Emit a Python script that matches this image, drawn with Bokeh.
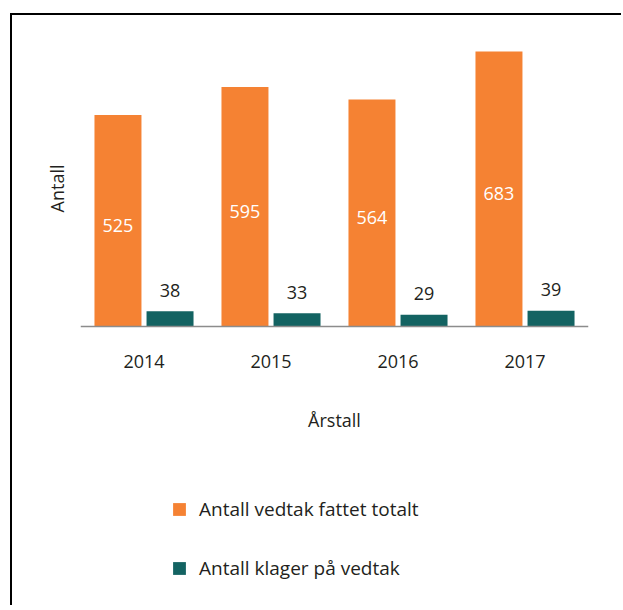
from bokeh.plotting import figure
from bokeh.models import (ColumnDataSource, FactorRange, Range1d, LabelSet, Legend,
                          LegendItem, CategoricalAxis, Title)
from bokeh.transform import dodge
from bokeh.core.properties import value
from bokeh.embed import file_html
from bokeh.resources import INLINE

years = ["2014", "2015", "2016", "2017"]
vedtak = [525, 595, 564, 683]
klager = [38, 33, 29, 39]
series_names = ["Antall vedtak fattet totalt", "Antall klager på vedtak"]
x_title = "Årstall"
y_title = "Antall"

ORANGE = "#F58233"
TEAL = "#136362"
TEXT = "#231F20"
FONT = "Open Sans"
FS = "18px"

src = ColumnDataSource(dict(
    year=years, vedtak=vedtak, klager=klager,
    vedtak_mid=[v / 2 for v in vedtak],
    vedtak_txt=[str(v) for v in vedtak],
    klager_txt=[str(v) for v in klager],
))

p = figure(x_range=FactorRange(factors=years, range_padding=0), y_range=Range1d(-698, 750),
           width=611, height=592, output_backend="svg", toolbar_location=None,
           x_axis_location=None, y_axis_location=None,
           min_border_left=68, min_border_right=35, min_border_top=9, min_border_bottom=0)
p.styles = {"border-top": "2px solid black", "border-left": "2px solid black"}
p.margin = (13, 0, 0, 10)
p.outline_line_color = None
p.xgrid.grid_line_color = None
p.ygrid.grid_line_color = None

xaxis = CategoricalAxis(fixed_location=0)
xaxis.axis_line_color = "#8c8c8c"
xaxis.axis_line_width = 1.5
xaxis.major_tick_line_color = None
xaxis.minor_tick_line_color = None
xaxis.major_label_standoff = 23
xaxis.major_label_text_font = FONT
xaxis.major_label_text_font_size = FS
xaxis.major_label_text_color = TEXT
xaxis.axis_label = x_title
xaxis.axis_label_standoff = 36
xaxis.axis_label_text_font = FONT
xaxis.axis_label_text_font_style = "normal"
xaxis.axis_label_text_font_size = FS
xaxis.axis_label_text_color = TEXT
p.add_layout(xaxis, "below")

ytitle = Title(text=y_title, align="right", offset=140, vertical_align="bottom", standoff=24,
               text_font=FONT, text_font_style="normal", text_font_size=FS, text_color=TEXT)
p.add_layout(ytitle, "left")

r1 = p.vbar(x=dodge("year", -0.205, range=p.x_range), top="vedtak", width=0.37, source=src,
            fill_color=ORANGE, line_color=None)
r2 = p.vbar(x=dodge("year", 0.205, range=p.x_range), top="klager", width=0.37, source=src,
            fill_color=TEAL, line_color=None)

l1 = LabelSet(x=dodge("year", -0.205, range=p.x_range), y="vedtak_mid", text="vedtak_txt", source=src,
              text_align="center", text_baseline="middle", y_offset=-5,
              text_color="white", text_font=value(FONT), text_font_size=FS)
l2 = LabelSet(x=dodge("year", 0.205, range=p.x_range), y="klager", text="klager_txt", source=src,
              text_align="center", text_baseline="middle", y_offset=21,
              text_color=TEXT, text_font=value(FONT), text_font_size=FS)
p.add_layout(l1)
p.add_layout(l2)

legend = Legend(items=[LegendItem(label=series_names[0], renderers=[r1]),
                       LegendItem(label=series_names[1], renderers=[r2])],
                location=(91, 26), orientation="vertical", margin=0, padding=0,
                spacing=33, glyph_width=16, glyph_height=16, label_height=20,
                label_standoff=12, label_text_font=FONT, label_text_font_size="19px",
                label_text_color=TEXT, border_line_color=None, background_fill_alpha=0)
p.add_layout(legend)

open("out.html", "w").write(file_html(p, INLINE))
